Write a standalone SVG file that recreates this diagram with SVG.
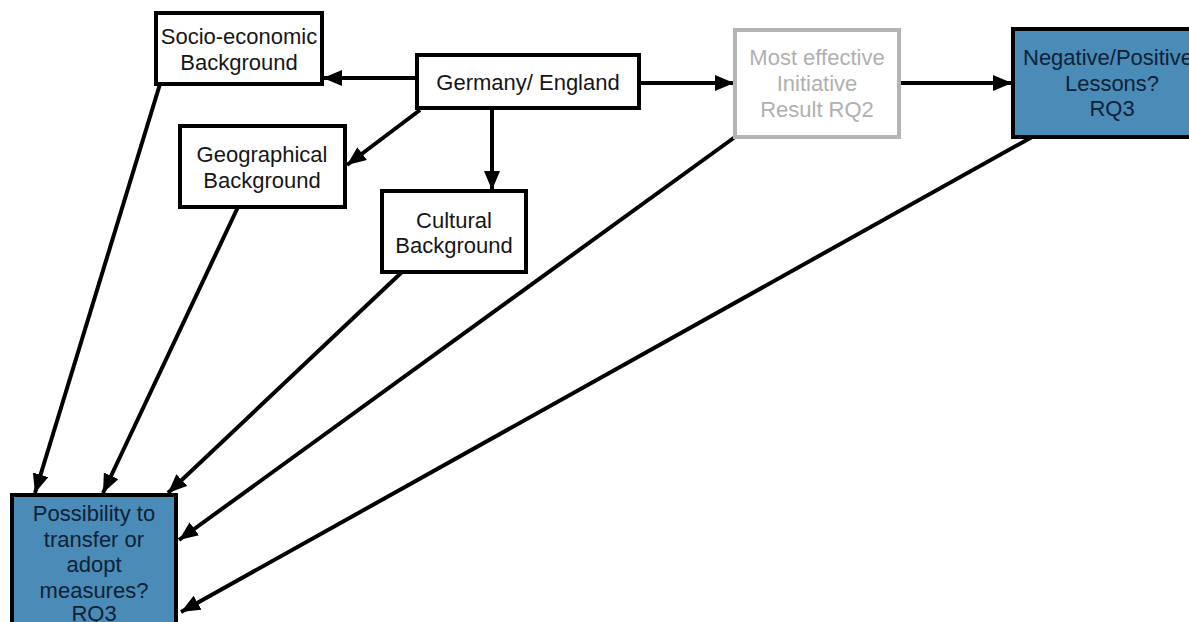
<svg xmlns="http://www.w3.org/2000/svg" width="1189" height="622" viewBox="0 0 1189 622">
<defs>
<marker id="ah" markerUnits="userSpaceOnUse" markerWidth="22" markerHeight="18" refX="19" refY="8" orient="auto">
<path d="M0,0 L19,8 L0,16 Z" fill="#000"/>
</marker>
<style>
.box{fill:#fff;stroke:#000;stroke-width:4}
.gbox{fill:#fff;stroke:#b4b4b4;stroke-width:4}
.bbox{fill:#4a8bb8;stroke:#000;stroke-width:4}
text{font-family:"Liberation Sans",Arial,sans-serif;font-size:22px;text-anchor:middle;fill:#161616}
.gt{fill:#b0b0b0}
.bt{fill:#0f2236}
.c line{stroke:#000;stroke-width:4;marker-end:url(#ah)}
</style>
</defs>
<rect width="1189" height="622" fill="#fff"/>
<g class="c" id="connectors">
<line x1="417" y1="78" x2="323" y2="78"/>
<line x1="420" y1="110" x2="347" y2="165"/>
<line x1="492" y1="108" x2="492" y2="190"/>
<line x1="639" y1="83" x2="734" y2="83"/>
<line x1="899" y1="83" x2="1012" y2="83"/>
<line x1="160" y1="84" x2="35" y2="493"/>
<line x1="238" y1="207" x2="103" y2="493"/>
<line x1="402" y1="272" x2="168" y2="493"/>
<line x1="735" y1="137" x2="179" y2="540"/>
<line x1="1032" y1="137" x2="181" y2="612"/>
</g>
<g id="socio"><rect class="box" x="156" y="13" width="166" height="71"/><text x="239" y="44">Socio-economic</text><text x="239" y="70">Background</text></g>
<g id="geo"><rect class="box" x="180" y="126" width="165" height="81"/><text x="262" y="162">Geographical</text><text x="262" y="188">Background</text></g>
<g id="germany"><rect class="box" x="417" y="55" width="222" height="53"/><text x="528" y="90">Germany/ England</text></g>
<g id="cultural"><rect class="box" x="382" y="191" width="144" height="81"/><text x="454" y="228">Cultural</text><text x="454" y="253">Background</text></g>
<g id="most"><rect class="gbox" x="735" y="30" width="164" height="107"/><text class="gt" x="817" y="65">Most effective</text><text class="gt" x="817" y="91">Initiative</text><text class="gt" x="817" y="117">Result RQ2</text></g>
<g id="negative"><rect class="bbox" x="1013" y="29" width="200" height="108"/><text class="bt" x="1108" y="65">Negative/Positive</text><text class="bt" x="1112" y="91">Lessons?</text><text class="bt" x="1112" y="116">RQ3</text></g>
<g id="possibility"><rect class="bbox" x="12" y="495" width="164" height="140"/><text class="bt" x="94" y="521">Possibility to</text><text class="bt" x="94" y="547">transfer or</text><text class="bt" x="94" y="572">adopt</text><text class="bt" x="94" y="598">measures?</text><text class="bt" x="94" y="621">RQ3</text></g>
</svg>
